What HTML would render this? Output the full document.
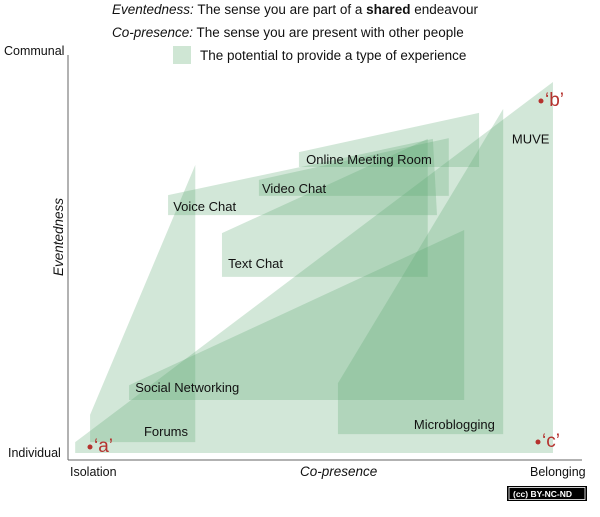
<!DOCTYPE html>
<html><head><meta charset="utf-8"><style>
body{margin:0;width:600px;height:512px;background:#fff;font-family:"Liberation Sans",sans-serif;overflow:hidden}
</style></head><body>
<svg width="600" height="512" viewBox="0 0 600 512" style="font-family:'Liberation Sans',sans-serif">
<g font-size="13.5" fill="#111">
<text x="112" y="14"><tspan font-style="italic">Eventedness:</tspan> The sense you are part of a <tspan font-weight="bold">shared</tspan> endeavour</text>
<text x="112" y="37"><tspan font-style="italic">Co-presence:</tspan> The sense you are present with other people</text>
<rect x="173" y="46" width="18" height="18" fill="#cfe6d4"/>
<text x="200" y="60">The potential to provide a type of experience</text>
</g>
<g id="shapes"></g>
<line x1="68" y1="55" x2="68" y2="460" stroke="#666" stroke-width="1"/>
<line x1="68" y1="460" x2="582" y2="460" stroke="#666" stroke-width="1"/>
<g font-size="12.5" fill="#111">
<text x="4" y="55">Communal</text>
<text x="8" y="457">Individual</text>
<text x="70" y="476">Isolation</text>
<text x="530" y="476">Belonging</text>
<text x="300" y="476" font-size="13.5" font-style="italic">Co-presence</text>
<text transform="translate(63,237) rotate(-90)" text-anchor="middle" font-size="13.5" font-style="italic">Eventedness</text>
</g>
<g id="labels" font-size="13" fill="#111"></g>
<g fill="#b5322e" font-size="19">
<circle cx="90" cy="447" r="2.5"/>
<text x="94" y="452">‘a’</text>
<circle cx="541" cy="101" r="2.5"/>
<text x="545" y="106">‘b’</text>
<circle cx="538" cy="442" r="2.5"/>
<text x="542" y="447">‘c’</text>
</g>
<g>
<rect x="507" y="486" width="80" height="15" fill="#000"/>
<rect x="509" y="487.5" width="76" height="12" fill="none" stroke="#fff" stroke-width="0.8"/>
<text x="513" y="497" font-size="8.5" fill="#fff" font-weight="bold">(cc) BY-NC-ND</text>
</g>
</svg>
<script>
const ns="http://www.w3.org/2000/svg";
// shapes in units: x 0..100 (co-presence), y 0..100 (eventedness)
const areaNames=["MUVE","Forums","Voice Chat","Text Chat","Video Chat","Online Meeting Room","Social Networking","Microblogging"];
const areaX=[[1.4,94.5,94.5,1.4],[4.3,24.8,24.8,4.3],[19.5,71.1,71.9,19.5],[30,70.1,70.1,30],[37.2,74.2,74.2,37.2],[45,80.1,80.1,45],[11.9,77.2,77.2,11.9],[52.6,84.8,84.8,52.6]];
const areaY=[[4.7,94.5,2,2],[11.5,73.8,4.7,4.7],[66.3,80.3,61.3,61.3],[56.8,80.3,45.9,45.9],[70.1,80.5,66.1,66.1],[77,86.8,73.3,73.3],[18.9,57.6,15.2,15.2],[19.4,87.8,6.7,6.7]];
const labelText=["MUVE","Forums","Voice Chat","Text Chat","Video Chat","Online Meeting Room","Social Networking","Microblogging"];
const labelX=[86.5,14.8,20.5,31.2,37.8,46.4,13.1,67.4];
const labelY=[79.2,6.2,62.3,48.1,66.8,74,17.2,8];
const sx=v=>68+v*5.132, sy=v=>461-v*4.011;
const g=document.getElementById("shapes");
areaNames.forEach((n,i)=>{
 const p=document.createElementNS(ns,"polygon");
 p.setAttribute("points",areaX[i].map((x,j)=>sx(x)+","+sy(areaY[i][j])).join(" "));
 p.setAttribute("fill","#5aa86e");p.setAttribute("fill-opacity","0.27");
 
 
 g.appendChild(p);
});
const lg=document.getElementById("labels");
labelText.forEach((t,i)=>{
 const e=document.createElementNS(ns,"text");
 e.setAttribute("x",sx(labelX[i]));e.setAttribute("y",sy(labelY[i]));e.textContent=t;
 
 
 lg.appendChild(e);
});
</script>
</body></html>
